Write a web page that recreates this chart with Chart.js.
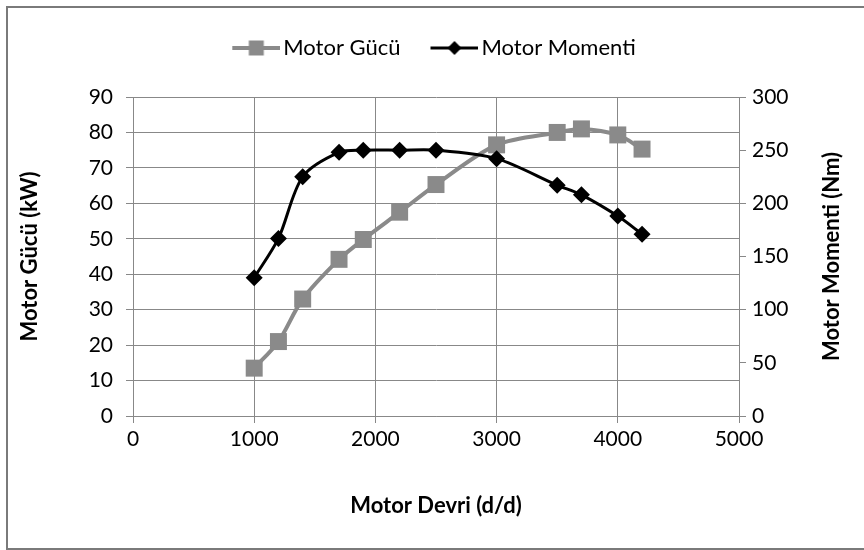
<!DOCTYPE html>
<html>
<head>
<meta charset="utf-8">
<script src="https://cdn.jsdelivr.net/npm/chart.js@4.4.1/dist/chart.umd.min.js"></script>
<style>
  html, body { margin: 0; padding: 0; background: #fff; }
  #wrap { position: relative; width: 864px; height: 550px; overflow: hidden; }
  #frame { position: absolute; left: 6px; top: 6px; width: 870px; height: 540px; border: 2px solid #7a7a7a; box-sizing: content-box; pointer-events: none; }
  #chartCanvas { position: absolute; left: 0; top: 0; }
</style>
</head>
<body>
<div id="wrap">
  <div id="frame"></div>
  <canvas id="chartCanvas" width="864" height="550"></canvas>
</div>
<script>
// Chart data
const rpm = [1000, 1200, 1400, 1700, 1900, 2200, 2500, 3000, 3500, 3700, 4000, 4200];
const motorPower = [13.5, 21, 33, 44.2, 49.8, 57.5, 65.3, 76.5, 80, 81, 79.3, 75.3];
const motorTorque = [130, 167, 225, 248, 250, 250, 250, 242, 217, 208, 188, 171];

const powerLabel = 'Motor Gücü';
const torqueLabel = 'Motor Momenti';
const xTitle = 'Motor Devri (d/d)';
const leftTitle = 'Motor Gücü (kW)';
const rightTitle = 'Motor Momenti (Nm)';

const grayColor = '#8a8a8a';
const blackColor = '#000000';

Chart.defaults.font.family = 'Lato, "Open Sans", sans-serif';
Chart.defaults.color = '#000';

// Helper to build the legend symbol (line with marker in the middle).
// The symbol sits in the right 48px of a 60px canvas so it ends close to the text.
function legendSymbol(color, lineWidth, shape, size) {
  const c = document.createElement('canvas');
  c.width = 60;
  c.height = 20;
  const ctx = c.getContext('2d');
  ctx.strokeStyle = color;
  ctx.fillStyle = color;
  ctx.lineWidth = lineWidth;
  ctx.beginPath();
  ctx.moveTo(12, 10);
  ctx.lineTo(60, 10);
  ctx.stroke();
  ctx.beginPath();
  const cx = 36;
  if (shape === 'square') {
    ctx.rect(cx - size / 2, 10 - size / 2, size, size);
  } else {
    ctx.moveTo(cx, 10 - size / 2);
    ctx.lineTo(cx + size / 2, 10);
    ctx.lineTo(cx, 10 + size / 2);
    ctx.lineTo(cx - size / 2, 10);
    ctx.closePath();
  }
  ctx.fill();
  return c;
}

const powerSymbol = legendSymbol(grayColor, 4, 'square', 15);
const torqueSymbol = legendSymbol(blackColor, 3, 'diamond', 14);

// Right axis title reads bottom-to-top like the left one
const rightTitlePlugin = {
  id: 'rightTitle',
  afterDraw(chart) {
    const ctx = chart.ctx;
    const area = chart.chartArea;
    ctx.save();
    ctx.translate(832, (area.top + area.bottom) / 2);
    ctx.rotate(-Math.PI / 2);
    ctx.font = 'bold 22px Lato, "Open Sans", sans-serif';
    ctx.fillStyle = '#000';
    ctx.textAlign = 'center';
    ctx.textBaseline = 'middle';
    ctx.fillText(rightTitle, 0, 0);
    ctx.restore();
  }
};

const chartConfig = {
  type: 'line',
  data: {
    datasets: [
      {
        label: powerLabel,
        data: rpm.map((x, i) => ({ x: x, y: motorPower[i] })),
        yAxisID: 'yPower',
        borderColor: grayColor,
        backgroundColor: grayColor,
        borderWidth: 4,
        pointStyle: 'rect',
        pointRadius: 12,
        pointBorderWidth: 0,
        tension: 0.3,
        order: 1
      },
      {
        label: torqueLabel,
        data: rpm.map((x, i) => ({ x: x, y: motorTorque[i] })),
        yAxisID: 'yTorque',
        borderColor: blackColor,
        backgroundColor: blackColor,
        borderWidth: 3,
        pointStyle: 'rectRot',
        pointRadius: 8.5,
        pointBorderWidth: 0,
        tension: 0.3,
        order: 0
      }
    ]
  },
  options: {
    responsive: false,
    animation: false,
    layout: { padding: { top: 11, left: 0, right: 0, bottom: 0 } },
    plugins: {
      tooltip: { enabled: false },
      legend: {
        position: 'top',
        labels: {
          usePointStyle: true,
          pointStyleWidth: 44,
          boxHeight: 20,
          padding: 26,
          font: { size: 22 },
          generateLabels: function() {
            return [
              { text: powerLabel, pointStyle: powerSymbol, fillStyle: grayColor, strokeStyle: grayColor, lineWidth: 0, datasetIndex: 0 },
              { text: torqueLabel, pointStyle: torqueSymbol, fillStyle: blackColor, strokeStyle: blackColor, lineWidth: 0, datasetIndex: 1 }
            ];
          }
        }
      },
      // empty subtitle used as a spacer between the legend and the plot
      subtitle: {
        display: true,
        text: ' ',
        weight: 500,
        font: { size: 10 },
        padding: { top: 16, bottom: 0 }
      }
    },
    scales: {
      x: {
        type: 'linear',
        position: 'bottom',
        min: 0,
        max: 5000,
        ticks: { stepSize: 1000, padding: 4, font: { size: 21 }, callback: (v) => String(v) },
        grid: { color: '#888', tickLength: 7 },
        border: { color: '#888' },
        title: { display: true, text: xTitle, font: { size: 22, weight: 'bold' }, padding: { top: 0, bottom: 31 } },
        afterFit: function(scale) { scale.height = 134; }
      },
      yPower: {
        type: 'linear',
        position: 'left',
        min: 0,
        max: 90,
        ticks: { stepSize: 10, padding: 13, font: { size: 21 } },
        grid: { color: '#888', tickLength: 7 },
        border: { color: '#888' },
        title: { display: true, text: leftTitle, font: { size: 22, weight: 'bold' }, padding: { top: 17, bottom: 0 } },
        afterFit: function(scale) { scale.width = 133; }
      },
      yTorque: {
        type: 'linear',
        position: 'right',
        min: 0,
        max: 300,
        ticks: { stepSize: 50, padding: 6, font: { size: 21 } },
        grid: { drawOnChartArea: false, color: '#888', tickLength: 7 },
        border: { color: '#888' },
        afterFit: function(scale) { scale.width = 125; }
      }
    }
  },
  plugins: [rightTitlePlugin]
};

const chartCanvas = document.getElementById('chartCanvas');
const motorChart = new Chart(chartCanvas.getContext('2d'), chartConfig);
</script>
</body>
</html>
